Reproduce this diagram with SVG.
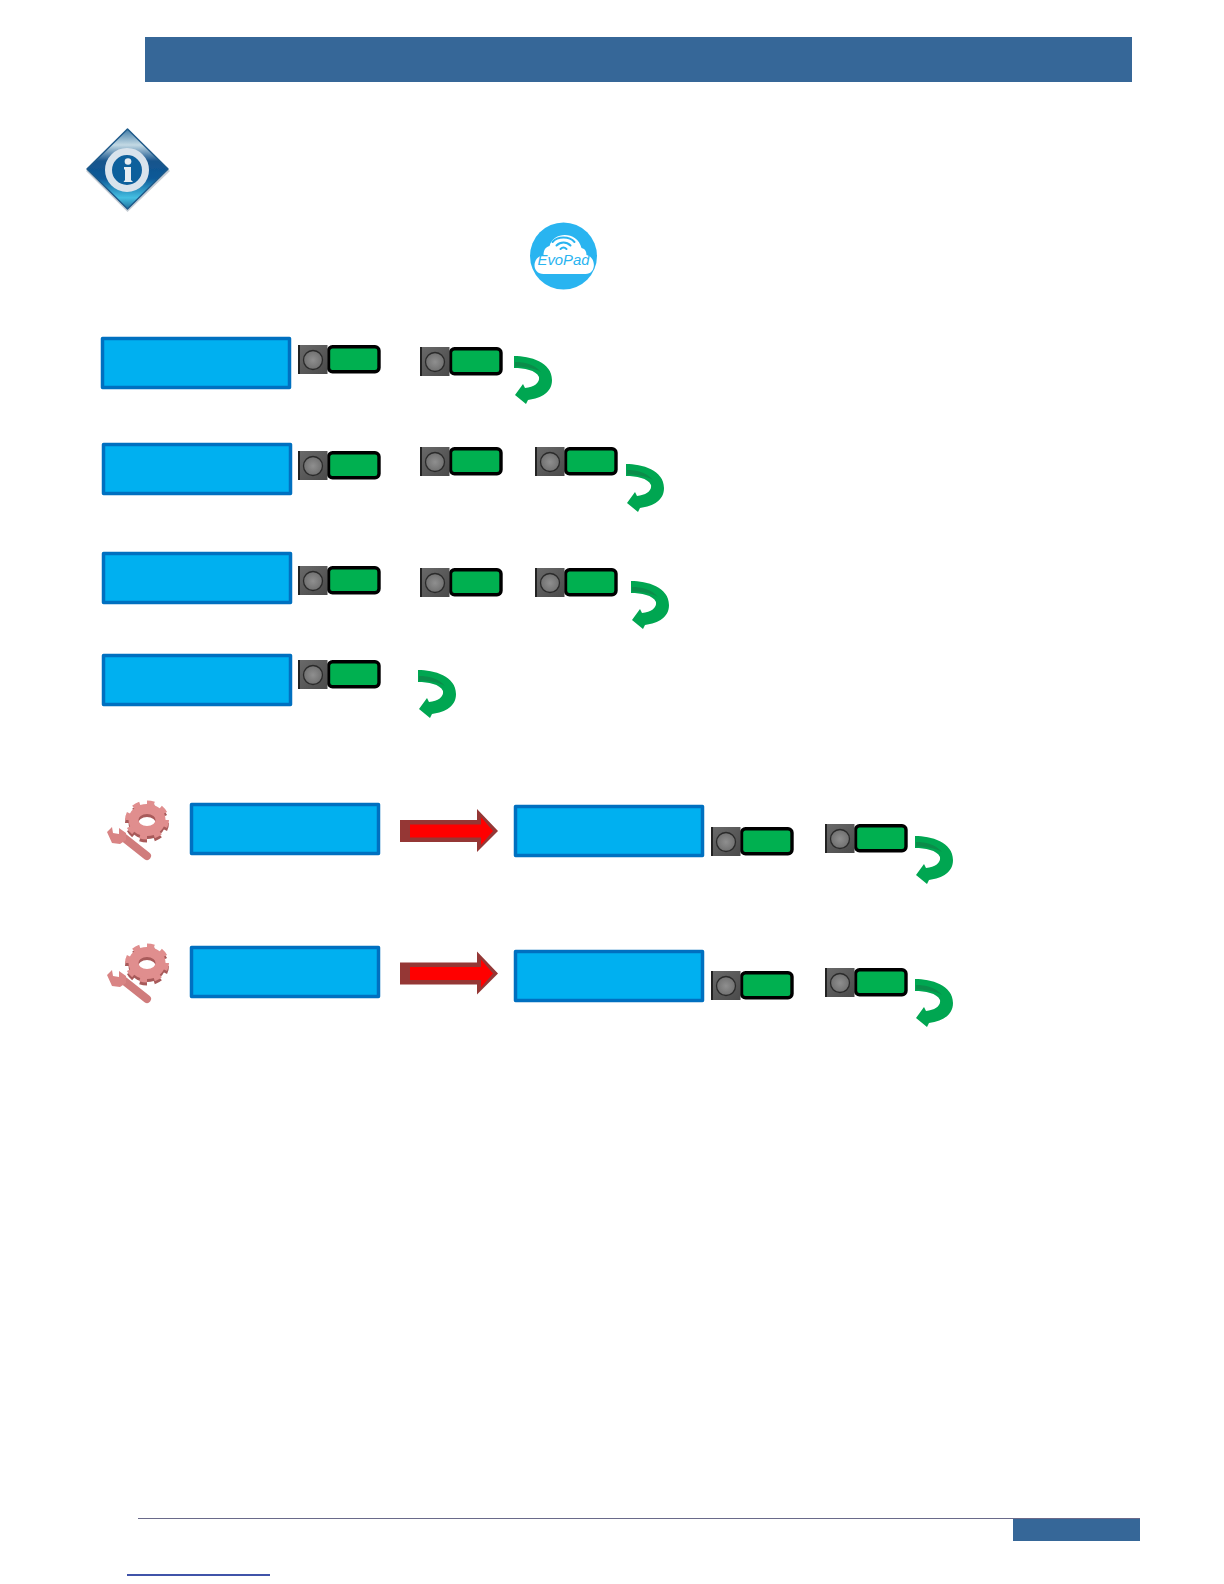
<svg xmlns="http://www.w3.org/2000/svg" width="1224" height="1584" viewBox="0 0 1224 1584">
<style>
.lcd{fill:#00b0f0;stroke:#0070c0;stroke-width:3.5;stroke-linejoin:round}
.band{fill:#366798}
.red-o{fill:#953735}
.red-i{fill:#ff0000}
</style>
<defs>
<linearGradient id="dia" x1="0" y1="0" x2="0" y2="1">
<stop offset="0" stop-color="#3f7ba6"/><stop offset=".2" stop-color="#c3d9e4"/><stop offset=".4" stop-color="#15548c"/><stop offset=".62" stop-color="#0d5a98"/><stop offset=".86" stop-color="#45bfe2"/><stop offset="1" stop-color="#1d6f9c"/>
</linearGradient>
<linearGradient id="sq" x1="0" y1="0" x2="1" y2="1"><stop offset="0" stop-color="#6a6a6a"/><stop offset="1" stop-color="#4a4a4a"/></linearGradient>
<radialGradient id="knob"><stop offset="0" stop-color="#8f8f8f"/><stop offset="1" stop-color="#707070"/></radialGradient>
<filter id="soft" x="-15%" y="-15%" width="130%" height="130%"><feGaussianBlur stdDeviation=".6"/></filter>
<g id="btn">
<rect x="30.500" y="1.800" width="50.500" height="25" rx="4" fill="#00b050" stroke="#000" stroke-width="3.400"/>
<rect x="0" y="0" width="29.500" height="29" fill="url(#sq)"/>
<rect x="0" y="0" width="2" height="29" fill="#222"/>
<circle cx="15" cy="15" r="9.500" fill="url(#knob)" stroke="#2a2a2a" stroke-width="1.300"/>
</g>
<g id="turn">
<path d="M0 0C16 0 38 6 38 24C38 36 28 42 14 44L12 48L1 39L9 28L11 32C20 31 26 27 25 21C22 14 10 12 0 12Z" fill="#00a651"/>
<path d="M1 6C10 6 20 8 27 16C20 12 10 10.500 1 10.500Z" fill="#0b8c4a"/>
</g>
<g id="gear" filter="url(#soft)">
<g fill="none" stroke="#a85a5a" transform="translate(0 3)">
<ellipse cx="41" cy="21" rx="13.500" ry="11" stroke-width="10"/>
<ellipse cx="41" cy="21" rx="19.500" ry="17" stroke-width="5" pathLength="16" stroke-dasharray="1 1"/>
</g>
<g fill="none" stroke="#e08e8e">
<ellipse cx="41" cy="21" rx="13.500" ry="11" stroke-width="10"/>
<ellipse cx="41" cy="21" rx="19.500" ry="17" stroke-width="5" pathLength="16" stroke-dasharray="1 1"/>
</g>
<line x1="17" y1="38" x2="41" y2="57" stroke="#d07c7c" stroke-width="8" stroke-linecap="round"/>
<path d="M1 33L6 28L7 34L13 35L13 29L20 34L20 41L14 45L6 44Z" fill="#d98484"/>
</g>
</defs>
<rect width="1224" height="1584" fill="#fff"/>

<g id="header"><rect class="band" x="145" y="37" width="987" height="45"/></g>

<g id="info-icon" filter="url(#soft)">
<path d="M127.500 132L170 171L127.500 212L86 171Z" fill="#c6cdd4"/>
<path d="M127.500 129L168 169L127.500 209L87 169Z" fill="url(#dia)" stroke="#1f5a8a" stroke-width="1.500" stroke-linejoin="round"/>
<circle cx="127" cy="170" r="18.500" fill="#11609c" stroke="#d9e3ec" stroke-width="7"/>
<circle cx="128" cy="161.500" r="3.300" fill="#e6edf2"/>
<path d="M124 167H131V180L133 182H123.500L125 180V169.500H124Z" fill="#e6edf2"/>
</g>

<g id="evopad-logo" transform="translate(563.500 256)">
<circle r="33.500" fill="#29b4f0"/>
<path d="M-20 18C-32 18-32 1-20-1C-20-6-18-9-14-10C-10-25 14-25 18-8C22-7 23-4 23-1C33 1 33 18 22 18Z" fill="#fff"/>
<path d="M-11-14C-6-20 6-20 11-14M-7-10.500C-3-14.500 3-14.500 7-10.500M-3-7C-1-9 1-9 3-7" fill="none" stroke="#29b4f0" stroke-width="2" stroke-linecap="round"/>
<text x="0" y="9" text-anchor="middle" font-family="'Liberation Sans',sans-serif" font-size="14" font-style="italic" fill="#29b4f0" textLength="52" lengthAdjust="spacingAndGlyphs">EvoPad</text>
</g>

<g id="row1">
<rect class="lcd" x="102.500" y="338.500" width="187" height="49"/>
<use href="#btn" x="298" y="345"/><use href="#btn" x="420" y="347"/><use href="#turn" x="514" y="356"/>
</g>
<g id="row2">
<rect class="lcd" x="103.500" y="444.500" width="187" height="49"/>
<use href="#btn" x="298" y="451"/><use href="#btn" x="420" y="447"/><use href="#btn" x="535" y="447"/><use href="#turn" x="626" y="464"/>
</g>
<g id="row3">
<rect class="lcd" x="103.500" y="553.500" width="187" height="49"/>
<use href="#btn" x="298" y="566"/><use href="#btn" x="420" y="568"/><use href="#btn" x="535" y="568"/><use href="#turn" x="631" y="581"/>
</g>
<g id="row4">
<rect class="lcd" x="103.500" y="655.500" width="187" height="49"/>
<use href="#btn" x="298" y="660"/><use href="#turn" x="418" y="670"/>
</g>
<g id="row5">
<use href="#gear" x="106" y="799"/>
<rect class="lcd" x="191.500" y="804.500" width="187" height="49"/>
<rect class="lcd" x="515.500" y="806.500" width="187" height="49"/>
<use href="#btn" x="711" y="827"/><use href="#btn" x="825" y="824"/><use href="#turn" x="915" y="836"/>
</g>
<g id="row6">
<use href="#gear" x="106" y="942"/>
<rect class="lcd" x="191.500" y="947.500" width="187" height="49"/>
<rect class="lcd" x="515.500" y="951.500" width="187" height="49"/>
<use href="#btn" x="711" y="971"/><use href="#btn" x="825" y="968"/><use href="#turn" x="915" y="979"/>
</g>

<g id="connectors">
<g id="arrow-a">
<path class="red-o" d="M400 820H477V809L498 831L477 852V842H400Z"/>
<path class="red-i" d="M410 824.500H481V817L493 831L481 845V837.500H410Z"/>
</g>
<g id="arrow-b" transform="translate(0 142.500)">
<path class="red-o" d="M400 820H477V809L498 831L477 852V842H400Z"/>
<path class="red-i" d="M410 824.500H481V817L493 831L481 845V837.500H410Z"/>
</g>
</g>

<g id="footer">
<line x1="138" y1="1518.500" x2="1140" y2="1518.500" stroke="#6a6a8a" stroke-width="1.200"/>
<rect class="band" x="1013" y="1519" width="127" height="22"/>
<line x1="127" y1="1575" x2="270" y2="1575" stroke="#001a8c" stroke-width="1.500"/>
</g>
</svg>
